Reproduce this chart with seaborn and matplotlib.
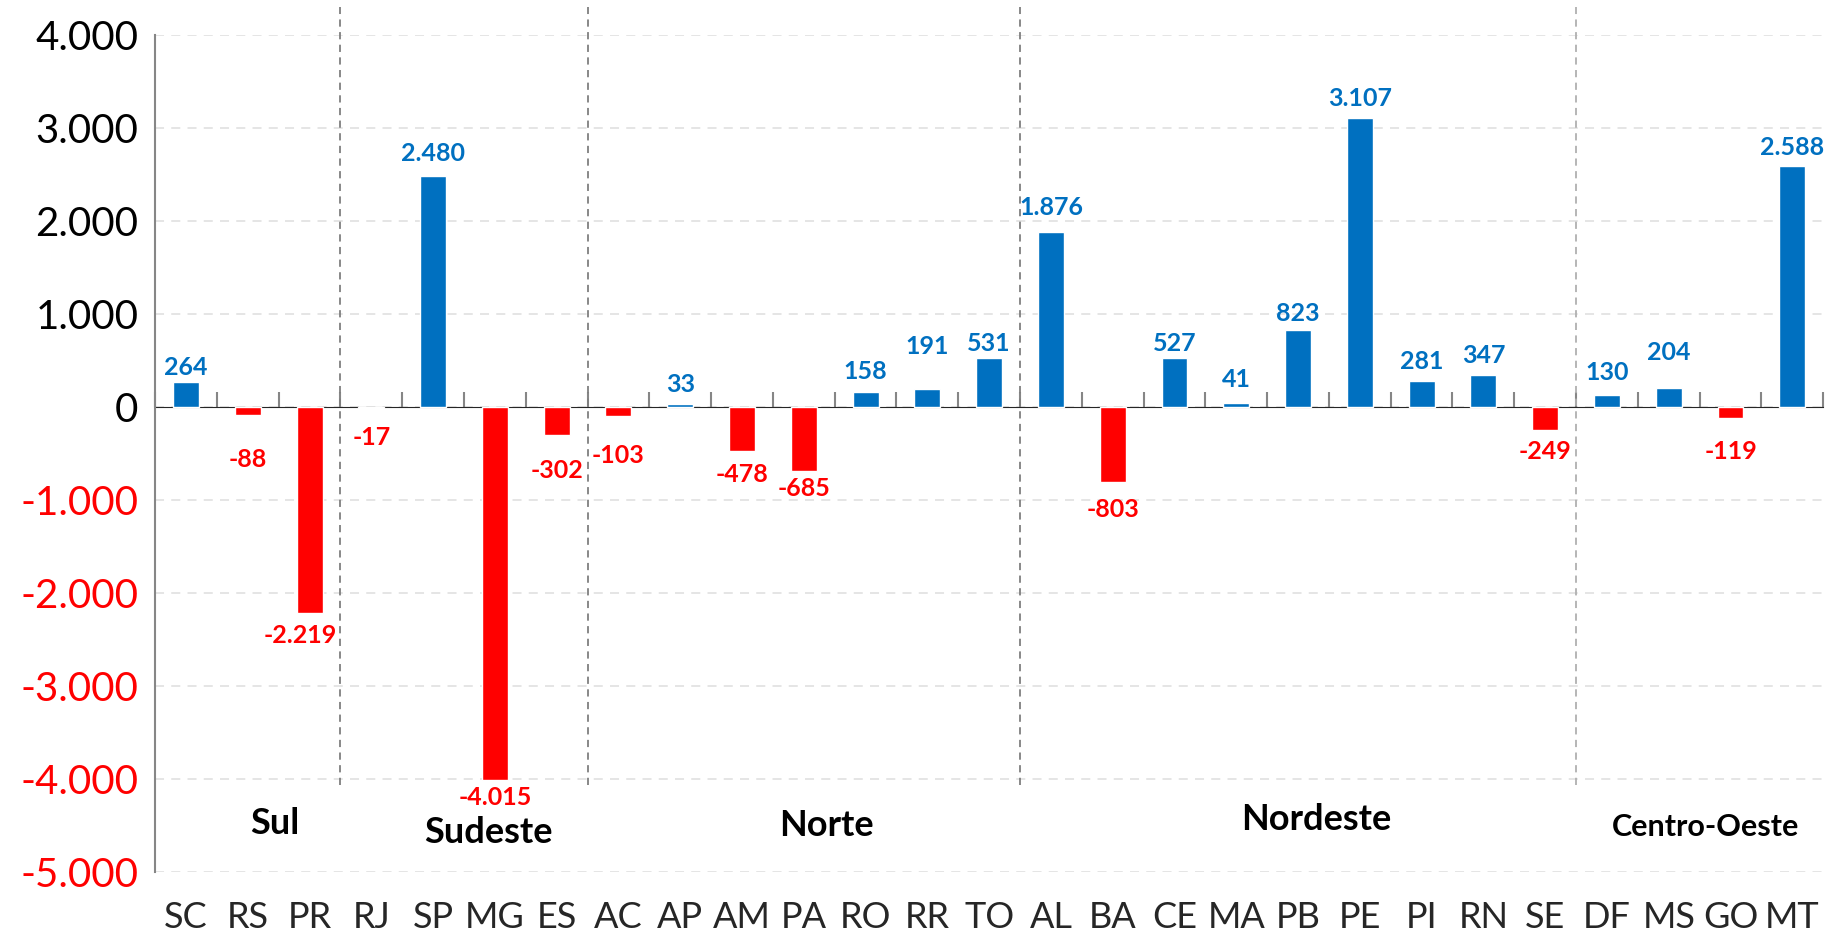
import numpy as np
import pandas as pd
import seaborn as sns
import matplotlib.pyplot as plt
from matplotlib.ticker import FuncFormatter

#%% Data

estados = ['SC', 'RS', 'PR', 'RJ', 'SP', 'MG', 'ES', 'AC', 'AP', 'AM', 'PA', 'RO', 'RR', 'TO',
           'AL', 'BA', 'CE', 'MA', 'PB', 'PE', 'PI', 'RN', 'SE', 'DF', 'MS', 'GO', 'MT']
saldo = [264, -88, -2219, -17, 2480, -4015, -302, -103, 33, -478, -685, 158, 191, 531,
         1876, -803, 527, 41, 823, 3107, 281, 347, -249, 130, 204, -119, 2588]
regioes = ['Sul', 'Sudeste', 'Norte', 'Nordeste', 'Centro-Oeste']
n_estados = [3, 4, 7, 9, 4]

# distance (px) between bar end and its label, as placed by hand in the original
folga_rotulo = [7, 36, 14, 21, 15, 9, 27, 31, 12, 15, 9, 13, 35, 7,
                17, 19, 7, 16, 9, 12, 12, 12, 13, 15, 28, 25, 11]

df = pd.DataFrame({'estado': estados, 'saldo': saldo})
df['sinal'] = np.where(df['saldo'] >= 0, 'pos', 'neg')

#%% Style

sns.set_style('white')
plt.rcParams['font.family'] = ['Lato', 'DejaVu Sans']

azul = '#0070C0'
vermelho = '#FF0000'
cinza = '#868686'

fig = plt.figure(figsize=(18.25, 9.41), dpi=100)
ax = fig.add_axes([0.085, 0.0733, 0.914, 0.8897])

sns.barplot(data=df, x='estado', y='saldo', hue='sinal', palette={'pos': azul, 'neg': vermelho},
            dodge=False, width=0.42, legend=False, ax=ax, saturation=1)

ax.set_xlim(-0.5, len(estados) - 0.5)
ax.set_ylim(-5000, 4000)
ax.set_yticks(range(-5000, 4001, 1000))
ax.yaxis.set_major_formatter(FuncFormatter(lambda v, p: f'{int(v):,}'.replace(',', '.')))
ax.set_xlabel('')
ax.set_ylabel('')

for y in range(-5000, 4001, 1000):
    ax.axhline(y, color='#e3e3e3', lw=1.3, ls=(0, (5, 4)), zorder=0)

for s in ['top', 'right', 'bottom']:
    ax.spines[s].set_visible(False)
ax.spines['left'].set_color(cinza)
ax.spines['left'].set_linewidth(1.5)

ax.tick_params(axis='y', length=10, width=1.5, color=cinza, labelsize=29, pad=2)
ax.tick_params(axis='x', length=0, labelsize=26, pad=21)
for lbl, v in zip(ax.get_yticklabels(), ax.get_yticks()):
    lbl.set_color(vermelho if v < 0 else 'black')

# zero line with category separator ticks
eixo0 = ax.secondary_xaxis(5000 / 9000)
eixo0.set_xticks(np.arange(-0.5, len(estados), 1))
eixo0.set_xticklabels([])
eixo0.tick_params(axis='x', direction='out', length=11, width=1.5, color=cinza)
eixo0.spines['bottom'].set_color(cinza)
eixo0.spines['bottom'].set_linewidth(1.5)

# data labels (gap converted from pixels to data units)
px_por_unidade = ax.get_position().height * fig.get_figheight() * fig.dpi / 9000
for i, (v, f) in enumerate(zip(saldo, folga_rotulo)):
    txt = f'{v:,}'.replace(',', '.')
    d = f / px_por_unidade
    if v >= 0:
        ax.text(i, v + d, txt, ha='center', va='baseline',
                color=azul, fontsize=18, fontweight='bold')
    else:
        dx = -0.15 if estados[i] == 'PR' else 0
        ax.text(i + dx, v - d + 3 / px_por_unidade, txt, ha='center', va='top',
                color=vermelho, fontsize=18, fontweight='bold')

# region separators and labels
limites = np.cumsum(n_estados)[:-1] - 0.5
for k, xb in enumerate(limites):
    cor = '#7f7f7f' if k < 3 else '#b0b0b0'
    ax.plot([xb, xb], [-4060, 4300], color=cor, lw=1.3, ls=(0, (4, 3)), clip_on=False, zorder=1)

pos_x = [1.44, 4.9, 10.37, 18.3, 24.6]
pos_y = [-4475, -4570, -4500, -4440, -4520]
tam = [26, 26, 26, 26, 22]
for nome, xr, yr, t in zip(regioes, pos_x, pos_y, tam):
    ax.text(xr, yr, nome, ha='center', va='center', fontsize=t, fontweight='bold', color='black')

fig.savefig('out.png', dpi=100)
